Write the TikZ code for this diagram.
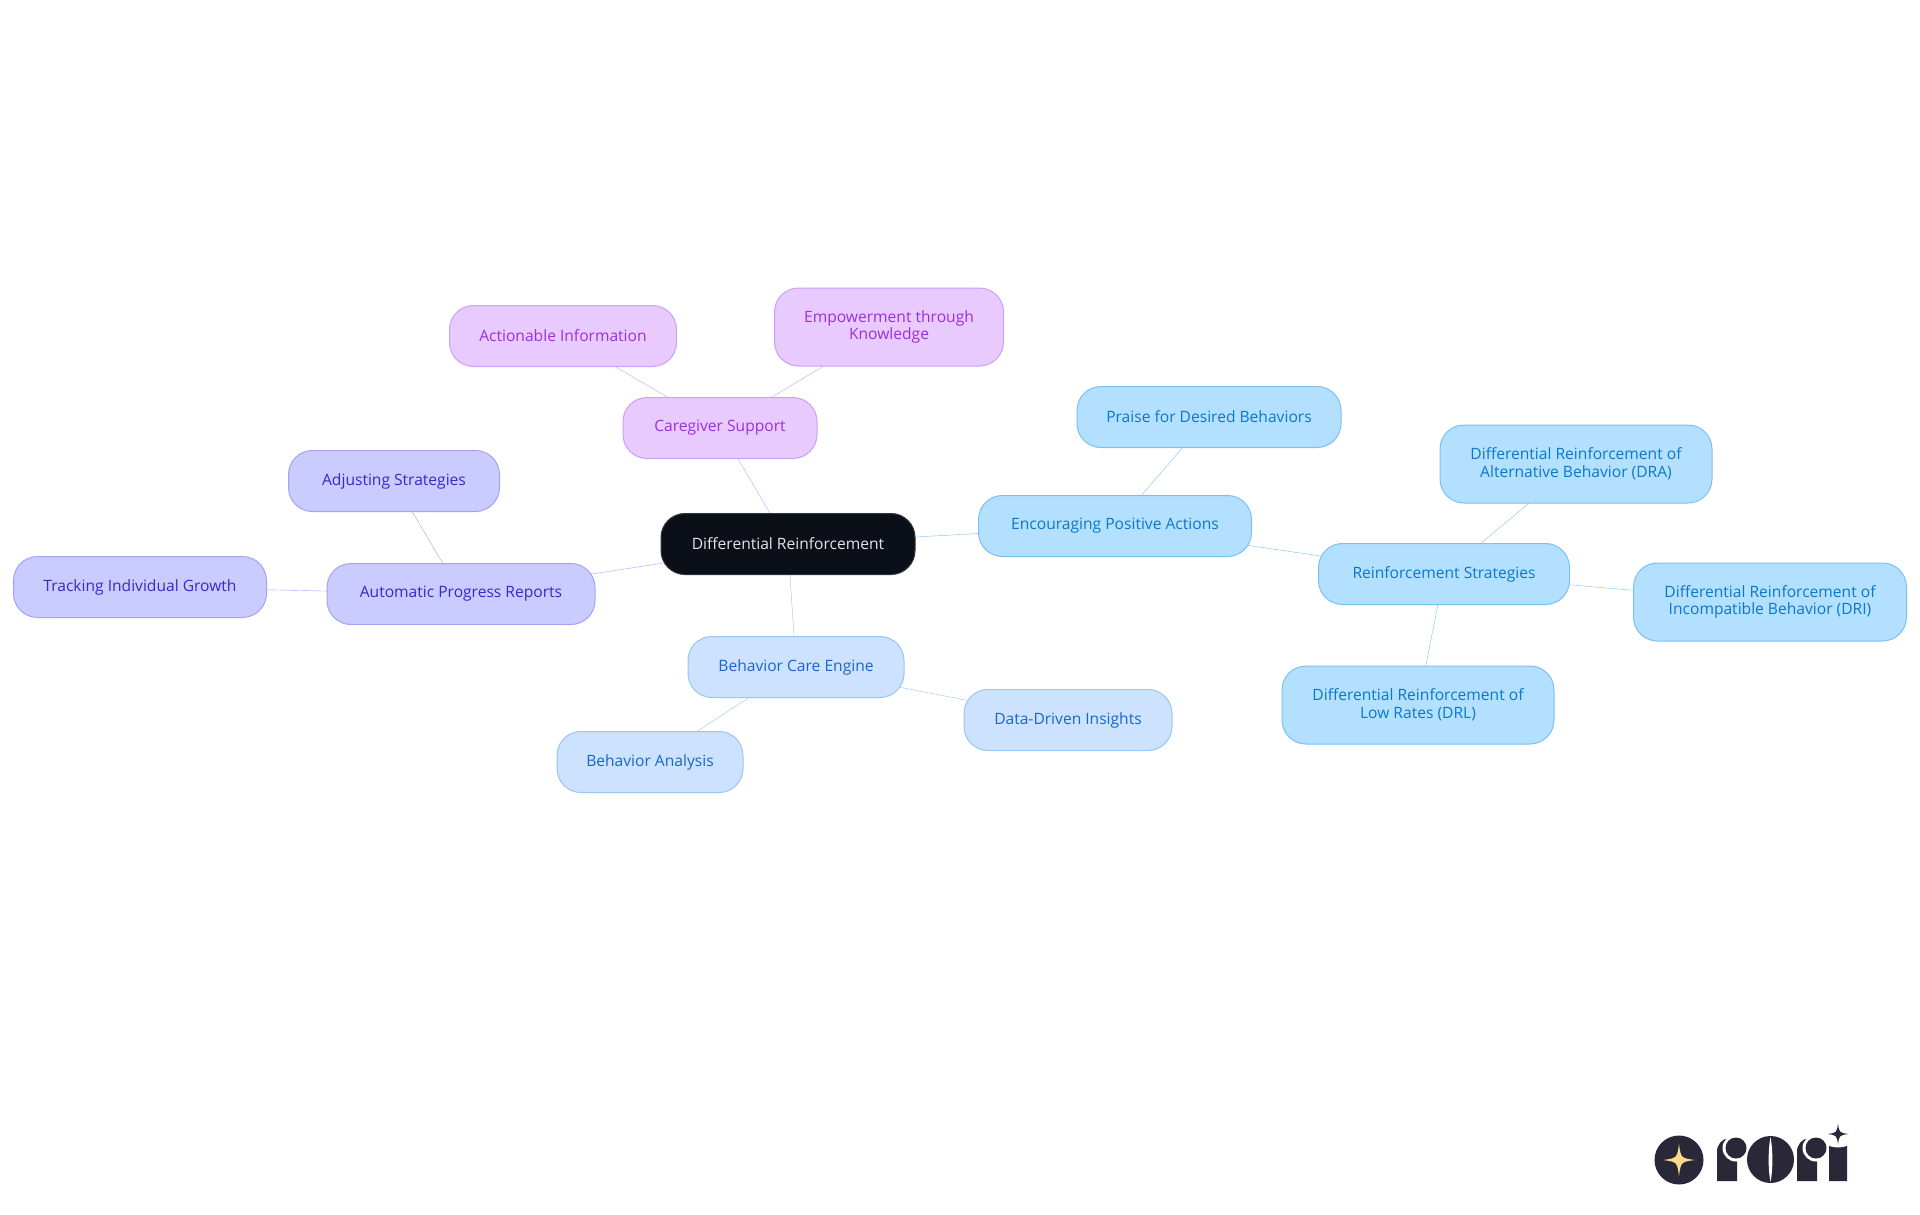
\documentclass[tikz,border=0pt]{standalone}
\usepackage{fontspec}
\setmainfont{Open Sans}
\usepackage{xcolor}
\usetikzlibrary{positioning,backgrounds}

\definecolor{rootfill}{HTML}{0B1018}
\definecolor{purplefill}{HTML}{E8CAFF}
\definecolor{purpleline}{HTML}{CBA0F5}
\definecolor{purpletext}{HTML}{9B30DD}
\definecolor{indigofill}{HTML}{CACBFF}
\definecolor{indigoline}{HTML}{A3A3F8}
\definecolor{indigotext}{HTML}{3A28C8}
\definecolor{bluefill}{HTML}{CCE2FF}
\definecolor{blueline}{HTML}{97C6F3}
\definecolor{bluetext}{HTML}{1A66CC}
\definecolor{skyfill}{HTML}{B3E0FF}
\definecolor{skyline}{HTML}{7CC0F2}
\definecolor{skytext}{HTML}{0A78CC}
\definecolor{logodark}{HTML}{2A2838}
\definecolor{logogold}{HTML}{FCD98A}

\newcommand{\logostar}[4]{
	\fill[#4] (#1,#2-#3) .. controls (#1+0.12*#3,#2-0.12*#3) .. (#1+#3,#2)
	.. controls (#1+0.12*#3,#2+0.12*#3) .. (#1,#2+#3)
	.. controls (#1-0.12*#3,#2+0.12*#3) .. (#1-#3,#2)
	.. controls (#1-0.12*#3,#2-0.12*#3) .. (#1,#2-#3) -- cycle;
}

\begin{document}
\begin{tikzpicture}[x=1pt,y=-1pt,node distance=100pt,line width=2pt]
	\tikzstyle{mapnode}=[draw,line width=1pt,rounded corners=24pt,minimum height=61pt,inner sep=0pt,align=center,font=\fontsize{15.6}{17.6}\selectfont]
	\tikzstyle{twolines}=[minimum height=78pt]
	\tikzstyle{rootnode}=[mapnode,fill=rootfill,draw=rootfill!85!white,text=white!90!black]
	\tikzstyle{purplenode}=[mapnode,fill=purplefill,draw=purpleline,text=purpletext]
	\tikzstyle{indigonode}=[mapnode,fill=indigofill,draw=indigoline,text=indigotext]
	\tikzstyle{bluenode}=[mapnode,fill=bluefill,draw=blueline,text=bluetext]
	\tikzstyle{skynode}=[mapnode,fill=skyfill,draw=skyline,text=skytext]

	\useasboundingbox (0,0) rectangle (1920,1215);

	\node[rootnode, minimum width=254pt] (root) at (788,544) {Differential Reinforcement};

	\node[purplenode, minimum width=194pt] (care)[above of = root, xshift=-68pt, yshift=16pt] {Caregiver Support};

	\node[purplenode, minimum width=227pt] (action)[above of = care, xshift=-157pt, yshift=-8pt] {Actionable Information};

	\node[purplenode, twolines, minimum width=229pt] (empower)[above of = care, xshift=169pt, yshift=1pt] {Empowerment through\\Knowledge};

	\node[indigonode, minimum width=268pt] (auto)[left of = root, xshift=-227pt, yshift=-50pt] {Automatic Progress Reports};

	\node[indigonode, minimum width=211pt] (adjust)[above of = auto, xshift=-67pt, yshift=13pt] {Adjusting Strategies};

	\node[indigonode, minimum width=253pt] (track)[left of = auto, xshift=-221pt, yshift=7pt] {Tracking Individual Growth};

	\node[bluenode, minimum width=216pt] (engine)[below of = root, xshift=8pt, yshift=-23pt] {Behavior Care Engine};

	\node[bluenode, minimum width=208pt] (data)[right of = engine, xshift=172pt, yshift=-53pt] {Data-Driven Insights};

	\node[bluenode, minimum width=186pt] (analysis)[below of = engine, xshift=-146pt, yshift=5pt] {Behavior Analysis};

	\node[skynode, minimum width=273pt] (encourage)[right of = root, xshift=227pt, yshift=18pt] {Encouraging Positive Actions};

	\node[skynode, minimum width=264pt] (praise)[above of = encourage, xshift=94pt, yshift=9pt] {Praise for Desired Behaviors};

	\node[skynode, minimum width=251pt] (strategy)[right of = encourage, xshift=229pt, yshift=-48pt] {Reinforcement Strategies};

	\node[skynode, twolines, minimum width=272pt] (dra)[above of = strategy, xshift=132pt, yshift=10pt] {Differential Reinforcement of\\Alternative Behavior (DRA)};

	\node[skynode, twolines, minimum width=273pt] (dri)[right of = strategy, xshift=226pt, yshift=-28pt] {Differential Reinforcement of\\Incompatible Behavior (DRI)};

	\node[skynode, twolines, minimum width=272pt] (drl)[below of = strategy, xshift=-26pt, yshift=-31pt] {Differential Reinforcement of\\Low Rates (DRL)};

	\begin{scope}[on background layer]
		\path[draw=purpleline]
		(root.center) edge (care.center)
		(care.center) edge (action.center)
		(care.center) edge (empower.center);

		\path[draw=indigoline]
		(root.center) edge (auto.center)
		(auto.center) edge (adjust.center)
		(auto.center) edge (track.center);

		\path[draw=blueline]
		(root.center) edge (engine.center)
		(engine.center) edge (data.center)
		(engine.center) edge (analysis.center);

		\path[draw=skyline]
		(root.center) edge (encourage.center)
		(encourage.center) edge (praise.center)
		(encourage.center) edge (strategy.center)
		(strategy.center) edge (dra.center)
		(strategy.center) edge (dri.center)
		(strategy.center) edge (drl.center);
	\end{scope}

	% logo
	\fill[logodark] (1679,1160) circle (24.5);
	\logostar{1679}{1160}{16}{logogold}
	\fill[logodark] (1717,1181) -- (1717,1152) .. controls (1717,1144) and (1722,1139) .. (1729,1138) -- (1737,1138) -- (1737,1181) -- cycle;
	\fill[white] (1736,1148) circle (13.5);
	\fill[logodark] (1736,1148) circle (10.5);
	\fill[logodark] (1770.5,1159.5) circle (23.5);
	\fill[white] (1770.5,1137) .. controls (1768,1150) and (1768,1170) .. (1770.5,1182) .. controls (1773,1170) and (1773,1150) .. (1770.5,1137) -- cycle;
	\fill[logodark] (1797,1181) -- (1797,1152) .. controls (1797,1144) and (1802,1139) .. (1809,1138) -- (1817,1138) -- (1817,1181) -- cycle;
	\fill[white] (1816,1148) circle (13.5);
	\fill[logodark] (1816,1148) circle (10.5);
	\fill[logodark] (1829,1181) -- (1829,1146) .. controls (1834,1148) and (1842,1148) .. (1847,1146) -- (1847,1181) -- cycle;
	\logostar{1838}{1134}{10.5}{logodark}
\end{tikzpicture}
\end{document}
